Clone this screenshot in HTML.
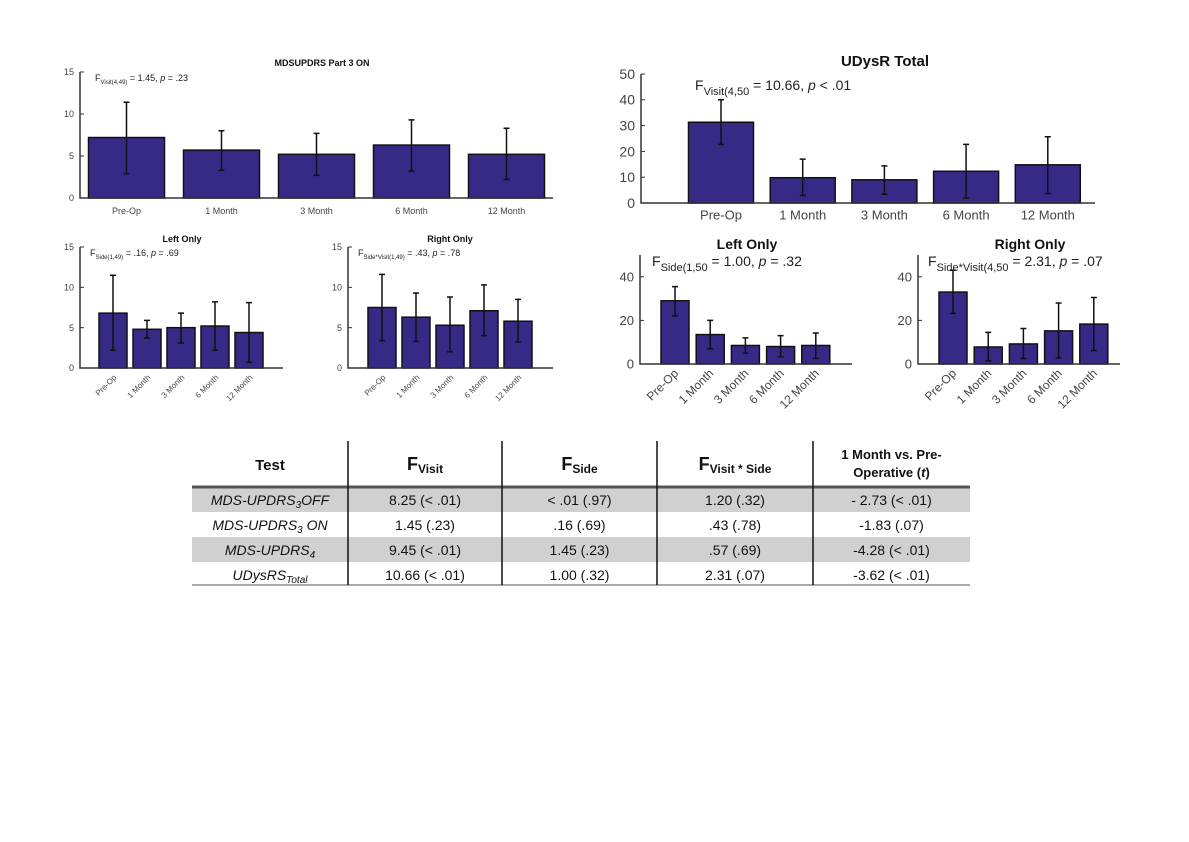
<!DOCTYPE html>
<html><head><meta charset="utf-8"><style>
body{margin:0;background:#fff;width:1189px;height:842px;overflow:hidden;font-family:"Liberation Sans",sans-serif}
svg{position:absolute;left:0;top:0}
</style></head><body>
<svg id="fig" width="1189" height="842"></svg>
<script>
const categories=["Pre-Op","1 Month","3 Month","6 Month","12 Month"];
const aVals=[7.2,5.7,5.2,6.3,5.2], aHi=[11.4,8.0,7.7,9.3,8.3], aLo=[2.9,3.3,2.7,3.2,2.2];
const bVals=[31.3,9.8,9.0,12.3,14.8], bHi=[40,17,14.4,22.7,25.7], bLo=[22.7,2.9,3.4,1.9,3.7];
const cVals=[6.8,4.8,5.0,5.2,4.4], cHi=[11.5,5.9,6.8,8.2,8.1], cLo=[2.2,3.7,3.1,2.2,0.7];
const dVals=[7.5,6.3,5.3,7.1,5.8], dHi=[11.6,9.3,8.8,10.3,8.5], dLo=[3.4,3.3,2.0,4.0,3.2];
const eVals=[29,13.5,8.5,8,8.5], eHi=[35.5,20,12,13,14.2], eLo=[22,7,5,3.3,2.5];
const fVals=[33,7.8,9.2,15.2,18.3], fHi=[43,14.5,16.3,28,30.5], fLo=[23.2,1.5,2.5,2.8,6.2];
const ticks15=[0,5,10,15], ticks50=[0,10,20,30,40,50], ticks40=[0,20,40];
const tableHead=["Test","F","F","F","1 Month vs. Pre-"];
const tableRows=[["MDS-UPDRS","3","OFF","8.25 (< .01)","< .01 (.97)","1.20 (.32)","- 2.73 (< .01)"],
["MDS-UPDRS","3"," ON","1.45 (.23)",".16 (.69)",".43 (.78)","-1.83 (.07)"],
["MDS-UPDRS","4","","9.45 (< .01)","1.45 (.23)",".57 (.69)","-4.28 (< .01)"],
["UDysRS","Total","","10.66 (< .01)","1.00 (.32)","2.31 (.07)","-3.62 (< .01)"]];
const NS="http://www.w3.org/2000/svg";
const svg=document.getElementById('fig');
function mk(tag,at,parent){const e=document.createElementNS(NS,tag);for(const k in at)e.setAttribute(k,at[k]);(parent||svg).appendChild(e);return e;}
function chart(o){
 const g=mk('g',{});
 
 
 const y=v=>o.y0-(v/o.ymax)*(o.y0-o.ytop);
 const n=categories.length, bw=(o.xend-o.x0)*o.bwf;
 const xc=i=>o.bx0+i*o.step;
 o.vals.forEach((v,i)=>{
  const r=mk('rect',{x:xc(i)-o.bw/2,y:y(v),width:o.bw,height:o.y0-y(v),fill:'#372a87',stroke:'#111',"stroke-width":1.5},g);
  
  
  const eb=mk('path',{d:`M${xc(i)},${y(o.hi[i])}V${y(o.lo[i])}M${xc(i)-3},${y(o.hi[i])}h6M${xc(i)-3},${y(o.lo[i])}h6`,stroke:'#111',"stroke-width":1.5,fill:'none'},g);
  
  
  let t;
  if(o.rot){t=mk('text',{x:xc(i)+4,y:o.y0+10,"font-size":o.fs,fill:'#444',"text-anchor":'end',transform:`rotate(-45 ${xc(i)+4} ${o.y0+10})`},g);}
  else t=mk('text',{x:xc(i),y:o.y0+14+o.fs*0.2,"font-size":o.fs,fill:'#444',"text-anchor":'middle'},g);
  t.textContent=categories[i];
  
  
 });
 const ax=mk('path',{d:`M${o.x0},${o.ytop}V${o.y0}H${o.xend}`,stroke:'#333',"stroke-width":1.5,fill:'none'},g);
 
 
 o.ticks.forEach(tv=>{
  mk('path',{d:`M${o.x0},${y(tv)}h4`,stroke:'#333'},g);
  const t=mk('text',{x:o.x0-6,y:y(tv)+o.tfs*0.35,"font-size":o.tfs,fill:'#444',"text-anchor":'end'},g);
  t.textContent=tv;
  
  
 });
 const ti=mk('text',{x:o.tx,y:o.ty,"font-size":o.tsz,"font-weight":'bold',"text-anchor":'middle',fill:'#111'},g);
 ti.textContent=o.title;
 
 
 const an=mk('text',{x:o.ax,y:o.ay,"font-size":o.afs,fill:'#222'},g);
 an.innerHTML=o.ann;
 
 
}
chart({name:'mdsupdrs-chart',vals:aVals,hi:aHi,lo:aLo,ticks:ticks15,ymax:15,x0:80,xend:553,y0:198,ytop:72,bx0:126.5,step:95,bw:76,fs:9,tfs:9,title:'MDSUPDRS Part 3 ON',tx:322,ty:66,tsz:9,ax:95,ay:81,afs:9,
 ann:'F<tspan font-size="6" dy="3">Visit(4,49)</tspan><tspan dy="-3"> = 1.45,  <tspan font-style="italic">p</tspan> = .23</tspan>'});
chart({name:'udysr-total-chart',vals:bVals,hi:bHi,lo:bLo,ticks:ticks50,ymax:50,x0:641,xend:1095,y0:203,ytop:74,bx0:721,step:81.7,bw:65,fs:13,tfs:14,title:'UDysR Total',tx:885,ty:66,tsz:15,ax:695,ay:90,afs:14,
 ann:'F<tspan font-size="11" dy="5">Visit(4,50</tspan><tspan dy="-5"> = 10.66,  <tspan font-style="italic">p</tspan> &lt; .01</tspan>'});
chart({name:'left-only-mds-chart',vals:cVals,hi:cHi,lo:cLo,ticks:ticks15,ymax:15,x0:80,xend:283,y0:368,ytop:247,bx0:113,step:34,bw:28,fs:8,tfs:9,rot:true,title:'Left Only',tx:182,ty:242,tsz:9,ax:90,ay:256,afs:9,
 ann:'F<tspan font-size="6" dy="3">Side(1,49)</tspan><tspan dy="-3"> = .16,  <tspan font-style="italic">p</tspan> = .69</tspan>'});
chart({name:'right-only-mds-chart',vals:dVals,hi:dHi,lo:dLo,ticks:ticks15,ymax:15,x0:348,xend:553,y0:368,ytop:247,bx0:382,step:34,bw:28,fs:8,tfs:9,rot:true,title:'Right Only',tx:450,ty:242,tsz:9,ax:358,ay:256,afs:9,
 ann:'F<tspan font-size="6" dy="3">Side*Visit(1,49)</tspan><tspan dy="-3"> = .43,  <tspan font-style="italic">p</tspan> = .78</tspan>'});
chart({name:'left-only-udys-chart',vals:eVals,hi:eHi,lo:eLo,ticks:ticks40,ymax:50,x0:640,xend:852,y0:364,ytop:255,bx0:675,step:35.2,bw:28,fs:12,tfs:13,rot:true,title:'Left Only',tx:747,ty:249,tsz:14,ax:652,ay:266,afs:14,
 ann:'F<tspan font-size="11" dy="5">Side(1,50</tspan><tspan dy="-5"> = 1.00,  <tspan font-style="italic">p</tspan> = .32</tspan>'});
chart({name:'right-only-udys-chart',vals:fVals,hi:fHi,lo:fLo,ticks:ticks40,ymax:50,x0:918,xend:1120,y0:364,ytop:255,bx0:953,step:35.2,bw:28,fs:12,tfs:13,rot:true,title:'Right Only',tx:1030,ty:249,tsz:14,ax:928,ay:266,afs:14,
 ann:'F<tspan font-size="11" dy="5">Side*Visit(4,50</tspan><tspan dy="-5"> = 2.31,  <tspan font-style="italic">p</tspan> = .07</tspan>'});
// table
const tg=mk('g',{});


const cx=[192,348,502,657,813,970], rowY=[487,512,537,562,585];
[0,2].forEach(r=>mk('rect',{x:192,y:rowY[r],width:778,height:rowY[r+1]-rowY[r],fill:'#d0d0d0'},tg));
mk('path',{d:'M192,487H970',stroke:'#555',"stroke-width":3},tg);
mk('path',{d:'M192,585H970',stroke:'#555',"stroke-width":1},tg);
cx.slice(1,5).forEach(x=>mk('path',{d:`M${x},441V585`,stroke:'#111',"stroke-width":1.5},tg));
const mid=i=>(cx[i]+cx[i+1])/2;
const hd=[['Test',''],['F','Visit'],['F','Side'],['F','Visit * Side']];
hd.forEach((h,i)=>{const t=mk('text',{x:mid(i),y:470,"text-anchor":'middle',"font-weight":'bold',"font-size":15,fill:'#111'},tg);
 t.innerHTML=h[1]?`<tspan font-size="18">${h[0]}</tspan><tspan font-size="12" dy="3">${h[1]}</tspan>`:h[0];
 
 });
const h5=mk('text',{x:mid(4),y:459,"text-anchor":'middle',"font-weight":'bold',"font-size":13,fill:'#111'},tg);
h5.innerHTML='1 Month vs. Pre-<tspan x="'+mid(4)+'" dy="18">Operative (<tspan font-style="italic">t</tspan>)</tspan>';


tableRows.forEach((r,i)=>{
 const yy=rowY[i]+18;
 const t=mk('text',{x:mid(0),y:yy,"text-anchor":'middle',"font-size":14,"font-style":'italic',fill:'#111'},tg);
 t.innerHTML=`${r[0]}<tspan font-size="10" dy="3">${r[1]}</tspan><tspan dy="-3">${r[2]}</tspan>`;
 
 
 for(let c=1;c<5;c++){const v=mk('text',{x:mid(c),y:yy,"text-anchor":'middle',"font-size":14,fill:'#111'},tg);
  v.textContent=r[c+2];
  
  }
});
</script>
</body></html>
